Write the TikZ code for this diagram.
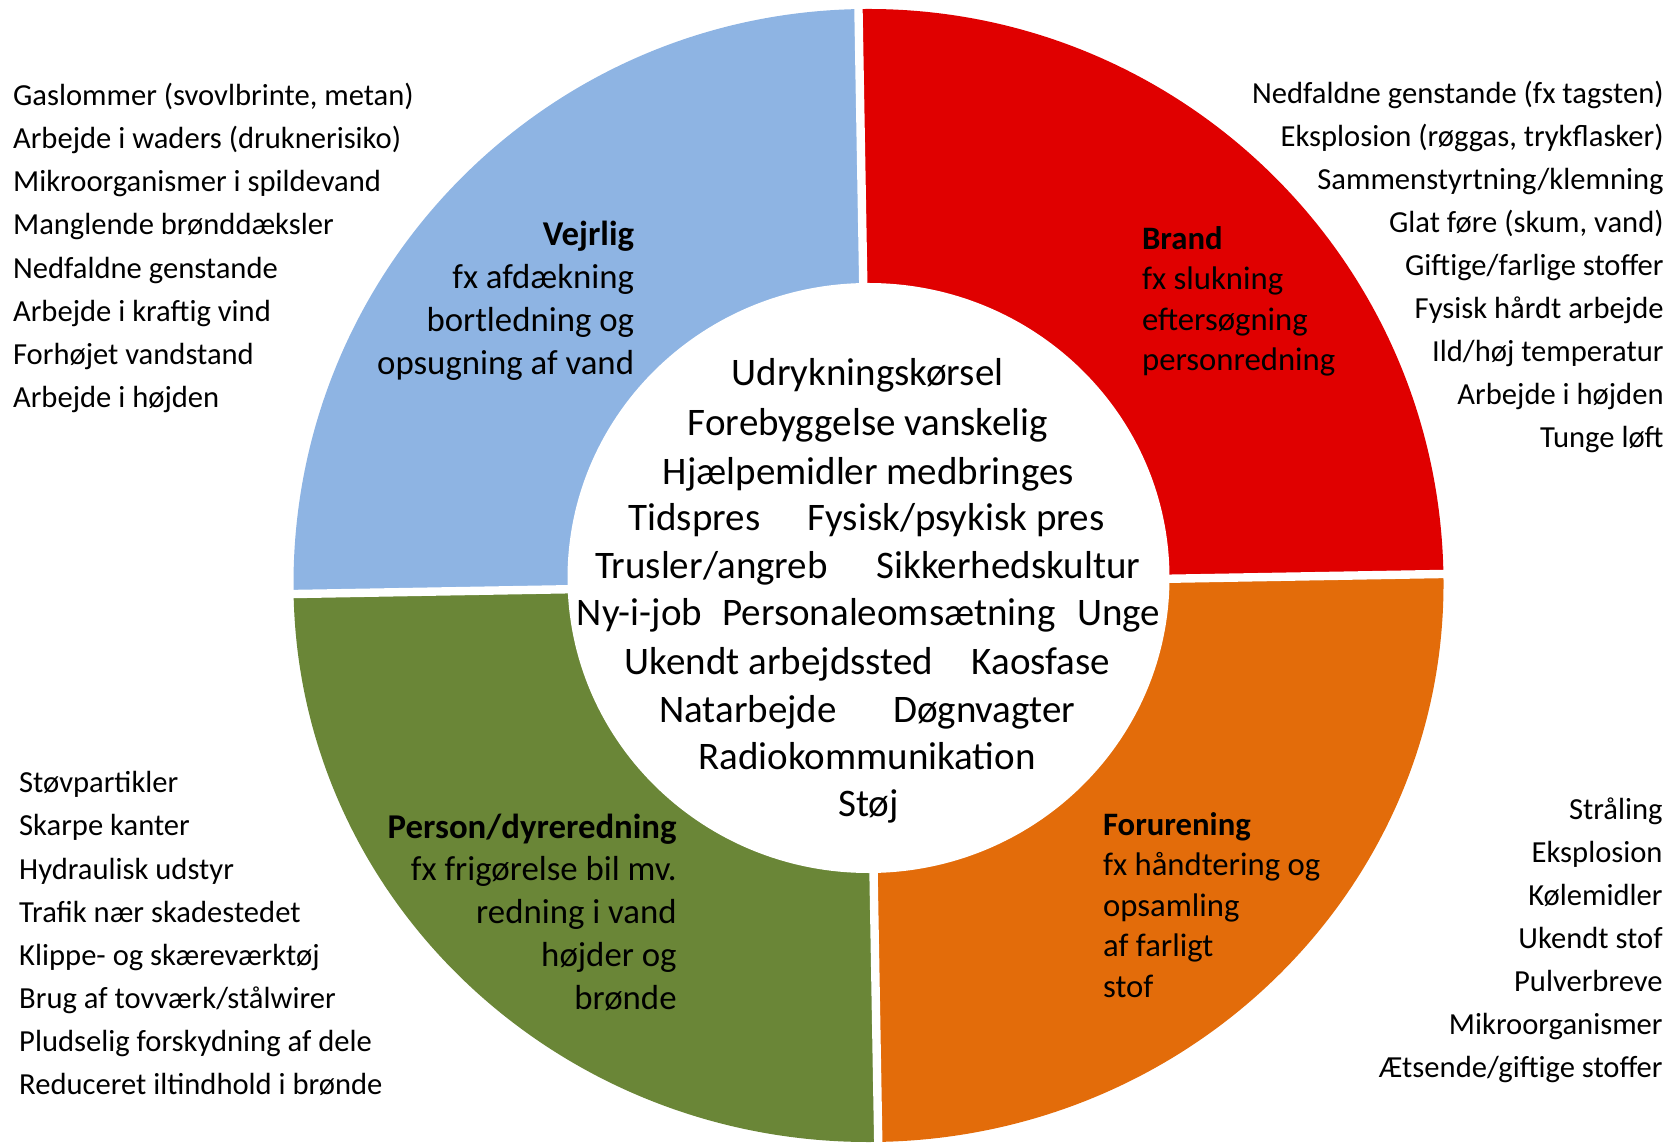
\documentclass[tikz,border=0pt]{standalone}
\usepackage{fontspec}
\setmainfont{Carlito}
\usetikzlibrary{calc}
\definecolor{qblue}{RGB}{142,180,227}
\definecolor{qred}{RGB}{224,0,0}
\definecolor{qgreen}{RGB}{106,134,55}
\definecolor{qorange}{RGB}{227,108,10}
\tikzset{
  lst/.style={font=\fontsize{15.3}{18}\selectfont, inner sep=0pt, text height=9.85pt, text depth=0pt},
  qla/.style={font=\fontsize{17.4}{20}\selectfont, inner sep=0pt, text height=11.2pt, text depth=0pt},
  qlb/.style={font=\fontsize{16.35}{19}\selectfont, inner sep=0pt, text height=10.5pt, text depth=0pt},
  ctr/.style={font=\fontsize{19.5}{23}\selectfont, inner sep=0pt, text height=12.55pt, text depth=0pt},
  gap/.style={white, line width=4.2pt}
}
\begin{document}
\begin{tikzpicture}[x=0.5pt,y=0.5pt]
\useasboundingbox (0,0) rectangle (1670,-1143);
\coordinate (C) at (868.5,-584);
% sectors
\fill[qred] (C) -- ++(1:575) arc[start angle=1,end angle=91,radius=575] -- cycle;
\fill[qblue] (C) -- ++(91:575) arc[start angle=91,end angle=181,radius=575] -- cycle;
\fill[qgreen] (C) -- ($(C)+(181:575 and 558)$) arc[start angle=181,end angle=271,x radius=575,y radius=558] -- cycle;
\fill[qorange] (C) -- ($(C)+(271:575 and 558)$) arc[start angle=271,end angle=361,x radius=575,y radius=558] -- cycle;
% gaps
\draw[gap] ($(C)+(91:620)$) -- ($(C)+(271:620)$);
\draw[gap] ($(C)+(1:620)$) -- ($(C)+(181:620)$);
% inner hole
\fill[white] (868.5,-578) ellipse[x radius=301,y radius=295];

% left top list
\foreach \t [count=\i] in {{Gaslommer (svovlbrinte, metan)},{Arbejde i waders (druknerisiko)},{Mikroorganismer i spildevand},{Manglende brønddæksler},{Nedfaldne genstande},{Arbejde i kraftig vind},{Forhøjet vandstand},{Arbejde i højden}}
  \node[lst,anchor=west] (lt\i) at (12.7,{-95.3-43.25*(\i-1)}) {\t};
% right top list
\foreach \t [count=\i] in {{Nedfaldne genstande (fx tagsten)},{Eksplosion (røggas, trykflasker)},{Sammenstyrtning/klemning},{Glat føre (skum, vand)},{Giftige/farlige stoffer},{Fysisk hårdt arbejde},{Ild/høj temperatur},{Arbejde i højden},{Tunge løft}}
  \node[lst,anchor=east] (rt\i) at (1664,{-93.3-43.1*(\i-1)}) {\t};
% left bottom list
\foreach \t [count=\i] in {{Støvpartikler},{Skarpe kanter},{Hydraulisk udstyr},{Trafik nær skadestedet},{Klippe- og skæreværktøj},{Brug af tovværk/stålwirer},{Pludselig forskydning af dele},{Reduceret iltindhold i brønde}}
  \node[lst,anchor=west] (lb\i) at (18.8,{-783-43.14*(\i-1)}) {\t};
% right bottom list
\foreach \t [count=\i] in {{Stråling},{Eksplosion},{Kølemidler},{Ukendt stof},{Pulverbreve},{Mikroorganismer},{Ætsende/giftige stoffer}}
  \node[lst,anchor=east] (rb\i) at (1663,{-810-42.9*(\i-1)}) {\t};

% quadrant labels
\foreach \t [count=\i] in {{\bfseries Vejrlig},{fx afdækning},{bortledning og},{opsugning af vand}}
  \node[qla,anchor=east] (qv\i) at (634.5,{-234-43*(\i-1)}) {\t};
\foreach \t [count=\i] in {{\bfseries Brand},{fx slukning},{eftersøgning},{personredning}}
  \node[qlb,anchor=west] (qb\i) at (1141.7,{-238.6-40.5*(\i-1)}) {\t};
\foreach \t [count=\i] in {{\bfseries Person/dyreredning},{fx frigørelse bil mv.},{redning i vand},{højder og},{brønde}}
  \node[qla,anchor=east] (qp\i) at (677,{-827-42.75*(\i-1)}) {\t};
\foreach \t [count=\i] in {{\bfseries Forurening},{fx håndtering og},{opsamling},{af farligt},{stof}}
  \node[qlb,anchor=west] (qf\i) at (1102.7,{-825-40.4*(\i-1)}) {\t};

% centre
\node[ctr] (c1) at (867.5,-373) {Udrykningskørsel};
\node[ctr] (c2) at (868,-423) {Forebyggelse vanskelig};
\node[ctr] (c3) at (868.5,-471.5) {Hjælpemidler medbringes};
\node[ctr] (c4a) at (694.5,-518) {Tidspres};
\node[ctr] (c4b) at (956,-518) {Fysisk/psykisk pres};
\node[ctr] (c5a) at (711.5,-566) {Trusler/angreb};
\node[ctr] (c5b) at (1008.5,-566) {Sikkerhedskultur};
\node[ctr] (c6a) at (639.5,-613) {Ny-i-job};
\node[ctr] (c6b) at (889,-613) {Personaleomsætning};
\node[ctr] (c6c) at (1118.5,-613) {Unge};
\node[ctr] (c7a) at (779,-661.5) {Ukendt arbejdssted};
\node[ctr] (c7b) at (1041,-661.5) {Kaosfase};
\node[ctr] (c8a) at (748,-709.5) {Natarbejde};
\node[ctr] (c8b) at (984,-709.5) {Døgnvagter};
\node[ctr] (c9) at (867,-757) {Radiokommunikation};
\node[ctr] (c10) at (868.5,-804) {Støj};
\end{tikzpicture}
\end{document}
